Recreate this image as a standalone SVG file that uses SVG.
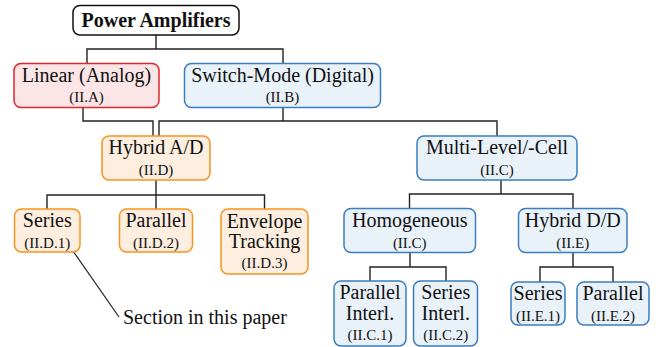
<svg xmlns="http://www.w3.org/2000/svg" width="661" height="347" viewBox="0 0 661 347">
<style>
text{font-family:"Liberation Serif","Times New Roman",serif;fill:#111;text-anchor:middle}
.m{font-size:20px}
.s{font-size:15px}
.b{font-size:20px;font-weight:bold}
.ann{font-size:20px;text-anchor:start}
rect{stroke-width:1.5}
.k{fill:#fff;stroke:#111}
.r{fill:#fce5e7;stroke:#e2242c}
.u{fill:#e9f1f9;stroke:#3b7dbf}
.o{fill:#fdeedf;stroke:#f7941d}
.c{fill:none;stroke:#222;stroke-width:1.4}
</style>
<g id="connectors">
<path class="c" d="M87,63.5 V49 H283 V63.5 M156,35 V49"/>
<path class="c" d="M83,107.5 V121 H153 V136"/>
<path class="c" d="M283,107.5 V121 M159,136 V121 H497 V136"/>
<path class="c" d="M156,180 V195 M47,209 V195 H264.5 V209 M156,195 V209"/>
<path class="c" d="M501,180 V194 M409.5,208.5 V194 H573 V208.5"/>
<path class="c" d="M410,252.5 V267 M370,281 V267 H446 V281"/>
<path class="c" d="M573,252.5 V267 M540,282 V267 H613 V282"/>
<path class="c" d="M73,251 L119,317" style="stroke-width:1.2"/>
</g>
<g id="pa"><rect class="k" x="73" y="5.5" width="166" height="29.5" rx="7"/><text class="b" x="156" y="27">Power Amplifiers</text></g>
<g id="linear"><rect class="r" x="14" y="63.5" width="145" height="44" rx="7"/><text class="m" x="86.5" y="82">Linear (Analog)</text><text class="s" x="86.5" y="102">(II.A)</text></g>
<g id="switch"><rect class="u" x="184.5" y="63.5" width="196" height="44" rx="7"/><text class="m" x="282.5" y="82">Switch-Mode (Digital)</text><text class="s" x="282.5" y="102">(II.B)</text></g>
<g id="hybridAD"><rect class="o" x="102" y="136" width="108" height="44" rx="7"/><text class="m" x="156" y="154">Hybrid A/D</text><text class="s" x="156" y="175">(II.D)</text></g>
<g id="multi"><rect class="u" x="417" y="136" width="160" height="44" rx="7"/><text class="m" x="497" y="154">Multi-Level/-Cell</text><text class="s" x="497" y="175">(II.C)</text></g>
<g id="seriesD"><rect class="o" x="14.5" y="209" width="65.5" height="43" rx="7"/><text class="m" x="47.25" y="227">Series</text><text class="s" x="47.25" y="248">(II.D.1)</text></g>
<g id="parallelD"><rect class="o" x="119.5" y="209" width="73" height="43" rx="7"/><text class="m" x="156" y="227">Parallel</text><text class="s" x="156" y="248">(II.D.2)</text></g>
<g id="envelope"><rect class="o" x="221" y="209" width="87" height="65" rx="7"/><text class="m" x="264.5" y="228">Envelope</text><text class="m" x="264.5" y="248">Tracking</text><text class="s" x="264.5" y="268">(II.D.3)</text></g>
<g id="homogeneous"><rect class="u" x="344" y="208.5" width="131.5" height="44" rx="7"/><text class="m" x="409.75" y="227">Homogeneous</text><text class="s" x="409.75" y="248">(II.C)</text></g>
<g id="hybridDD"><rect class="u" x="518.5" y="208.5" width="108.5" height="44" rx="7"/><text class="m" x="572.75" y="227">Hybrid D/D</text><text class="s" x="572.75" y="248">(II.E)</text></g>
<g id="parInterl"><rect class="u" x="334" y="281" width="72" height="65" rx="7"/><text class="m" x="370" y="299">Parallel</text><text class="m" x="370" y="320">Interl.</text><text class="s" x="370" y="340">(II.C.1)</text></g>
<g id="serInterl"><rect class="u" x="413.5" y="281" width="64" height="65" rx="7"/><text class="m" x="445.75" y="299">Series</text><text class="m" x="445.75" y="320">Interl.</text><text class="s" x="445.75" y="340">(II.C.2)</text></g>
<g id="seriesE"><rect class="u" x="511" y="282" width="54" height="43" rx="7"/><text class="m" x="538" y="300">Series</text><text class="s" x="538" y="321">(II.E.1)</text></g>
<g id="parallelE"><rect class="u" x="577" y="282" width="72" height="43" rx="7"/><text class="m" x="613" y="300">Parallel</text><text class="s" x="613" y="321">(II.E.2)</text></g>
<g id="annotation"><text class="ann" x="123" y="324">Section in this paper</text></g>
</svg>
